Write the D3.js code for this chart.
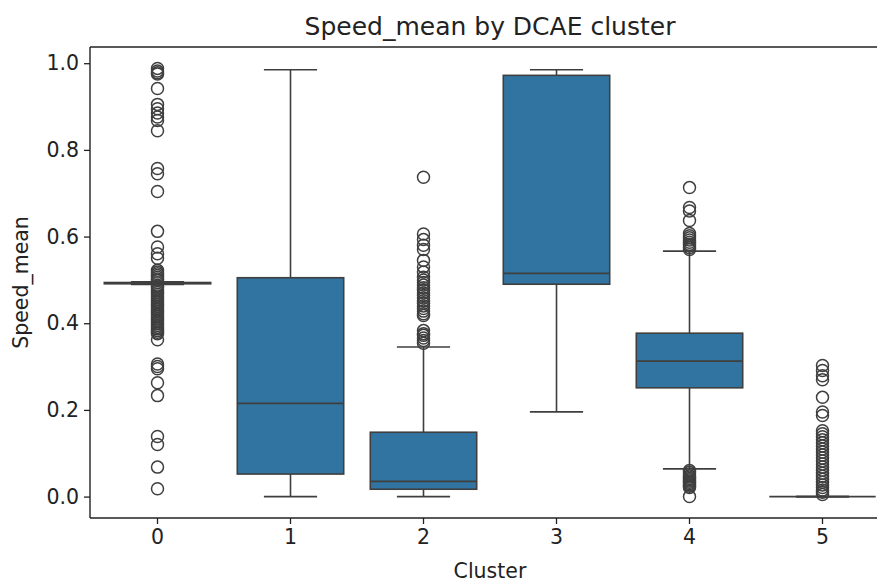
<!DOCTYPE html>
<html>
<head>
<meta charset="utf-8">
<script src="https://cdn.jsdelivr.net/npm/d3@7/dist/d3.min.js"></script>
<style>
  html, body { margin: 0; padding: 0; background: #ffffff; }
  svg { display: block; font-family: "DejaVu Sans", sans-serif; }
</style>
</head>
<body>
<svg id="chart" width="877" height="583"></svg>
<script>
// Cluster labels along the x axis
const clusters = ["0", "1", "2", "3", "4", "5"];

// Box statistics per cluster (Speed_mean)
const whiskerLow  = [0.4895, 0.000, 0.000, 0.1955, 0.064, 0.000];
const q1          = [0.4910, 0.052, 0.017, 0.490,  0.251, 0.000];
const median      = [0.4925, 0.215, 0.035, 0.515,  0.3125, 0.000];
const q3          = [0.4940, 0.505, 0.1485, 0.972, 0.377, 0.000];
const whiskerHigh = [0.4955, 0.985, 0.345, 0.985,  0.5665, 0.000];

// Outlying points per cluster
const outliers0 = [0.988, 0.982, 0.978, 0.975, 0.9415, 0.905, 0.895, 0.885, 0.876, 0.868,
  0.844, 0.757, 0.745, 0.704, 0.612, 0.576, 0.5605, 0.550, 0.522, 0.518, 0.514, 0.510,
  0.506, 0.502, 0.499, 0.486, 0.483, 0.479, 0.475, 0.471, 0.467, 0.463, 0.459, 0.455,
  0.451, 0.447, 0.443, 0.439, 0.435, 0.431, 0.427, 0.423, 0.419, 0.415, 0.411, 0.407,
  0.403, 0.399, 0.395, 0.391, 0.387, 0.383, 0.379, 0.376, 0.362, 0.306, 0.300, 0.295,
  0.2626, 0.233, 0.1386, 0.120, 0.068, 0.018];
const outliers1 = [];
const outliers2 = [0.737, 0.606, 0.593, 0.580, 0.570, 0.545, 0.530, 0.518, 0.506, 0.500,
  0.494, 0.488, 0.482, 0.476, 0.470, 0.464, 0.458, 0.452, 0.446, 0.440, 0.434, 0.428,
  0.422, 0.418, 0.383, 0.376, 0.372, 0.366, 0.360, 0.354];
const outliers3 = [];
const outliers4 = [0.713, 0.667, 0.659, 0.637, 0.607, 0.602, 0.597, 0.592, 0.587, 0.582,
  0.578, 0.574, 0.570, 0.060, 0.056, 0.052, 0.048, 0.045, 0.042, 0.039, 0.036, 0.033,
  0.030, 0.027, 0.024, 0.021, 0.000];
const outliers5 = [0.3025, 0.291, 0.279, 0.2695, 0.229, 0.195, 0.187, 0.152, 0.145, 0.138,
  0.131, 0.124, 0.117, 0.110, 0.103, 0.096, 0.089, 0.082, 0.075, 0.068, 0.061, 0.054,
  0.047, 0.040, 0.033, 0.027, 0.021, 0.015, 0.010, 0.005];
const outlierLists = [outliers0, outliers1, outliers2, outliers3, outliers4, outliers5];

const yTicks = [0.0, 0.2, 0.4, 0.6, 0.8, 1.0];

const titleText = "Speed_mean by DCAE cluster";
const xLabel = "Cluster";
const yLabel = "Speed_mean";

// Layout
const plot = { left: 91, right: 889, top: 47, bottom: 518 };
const boxFill = "#3274a1";
const lineColor = "#3f3f3f";
const inkColor = "#222";
const tickFont = "20.5px";

const svg = d3.select("#chart");

const x = d3.scaleBand().domain(clusters).range([plot.left, plot.right]).paddingInner(0).paddingOuter(0);

// y extent from all values, padded by 5% on each side
const allValues = [].concat(whiskerLow, whiskerHigh, ...outlierLists);
const yMin = d3.min(allValues), yMax = d3.max(allValues);
const pad = (yMax - yMin) * 0.05;
const y = d3.scaleLinear().domain([yMin - pad, yMax + pad]).range([plot.bottom, plot.top]);

const bw = x.bandwidth();
const boxW = bw * 0.8;
const capW = boxW * 0.5;

const g = svg.append("g");

const data = clusters.map((c, i) => ({
  c, lo: whiskerLow[i], q1: q1[i], med: median[i], q3: q3[i], hi: whiskerHigh[i], out: outlierLists[i]
}));

data.forEach(d => {
  const cx = x(d.c) + bw / 2;
  const grp = g.append("g");
  // whiskers
  grp.append("line").attr("x1", cx).attr("x2", cx).attr("y1", y(d.q1)).attr("y2", y(d.lo))
    .attr("stroke", lineColor).attr("stroke-width", 1.6);
  grp.append("line").attr("x1", cx).attr("x2", cx).attr("y1", y(d.q3)).attr("y2", y(d.hi))
    .attr("stroke", lineColor).attr("stroke-width", 1.6);
  // caps
  [d.lo, d.hi].forEach(v => {
    grp.append("line").attr("x1", cx - capW / 2).attr("x2", cx + capW / 2)
      .attr("y1", y(v)).attr("y2", y(v))
      .attr("stroke", lineColor).attr("stroke-width", 1.6);
  });
  // box
  grp.append("rect").attr("x", cx - boxW / 2).attr("width", boxW)
    .attr("y", y(d.q3)).attr("height", Math.max(0, y(d.q1) - y(d.q3)))
    .attr("fill", boxFill).attr("stroke", lineColor).attr("stroke-width", 1.6);
  // median
  grp.append("line").attr("x1", cx - boxW / 2).attr("x2", cx + boxW / 2)
    .attr("y1", y(d.med)).attr("y2", y(d.med))
    .attr("stroke", lineColor).attr("stroke-width", 1.6);
  // outliers
  grp.selectAll("circle").data(d.out).join("circle")
    .attr("cx", cx).attr("cy", v => y(v)).attr("r", 6)
    .attr("fill", "none").attr("stroke", lineColor).attr("stroke-width", 1.5);
});

// Axes
const yAxis = d3.axisLeft(y).tickValues(yTicks).tickFormat(d3.format(".1f")).tickSize(6).tickPadding(5);
const xAxis = d3.axisBottom(x).tickSize(6).tickPadding(5);

const ya = svg.append("g").attr("transform", `translate(${plot.left - 1},0)`).call(yAxis);
const xa = svg.append("g").attr("transform", `translate(0,${plot.bottom})`).call(xAxis);

[ya, xa].forEach(a => {
  a.select(".domain").remove();
  a.selectAll(".tick line").attr("stroke", inkColor).attr("stroke-width", 1.3);
  a.selectAll(".tick text").attr("fill", inkColor).style("font-size", tickFont)
    .style("font-family", "DejaVu Sans, sans-serif");
});

// Spines: left, bottom, top
svg.append("line").attr("x1", plot.left - 1).attr("x2", plot.left - 1).attr("y1", plot.top).attr("y2", plot.bottom)
  .attr("stroke", inkColor).attr("stroke-width", 1.4);
svg.append("line").attr("x1", plot.left - 1).attr("x2", plot.right).attr("y1", plot.bottom).attr("y2", plot.bottom)
  .attr("stroke", inkColor).attr("stroke-width", 1.4);
svg.append("line").attr("x1", plot.left - 1).attr("x2", plot.right).attr("y1", plot.top).attr("y2", plot.top)
  .attr("stroke", inkColor).attr("stroke-width", 1.4);

// Title and axis labels
svg.append("text").attr("x", (plot.left + plot.right) / 2).attr("y", 35)
  .attr("text-anchor", "middle").attr("fill", inkColor).style("font-size", "25px").text(titleText);
svg.append("text").attr("x", (plot.left + plot.right) / 2).attr("y", 578)
  .attr("text-anchor", "middle").attr("fill", inkColor).style("font-size", tickFont).text(xLabel);
svg.append("text").attr("transform", `translate(28,${(plot.top + plot.bottom) / 2}) rotate(-90)`)
  .attr("text-anchor", "middle").attr("fill", inkColor).style("font-size", tickFont).text(yLabel);
</script>
</body>
</html>
